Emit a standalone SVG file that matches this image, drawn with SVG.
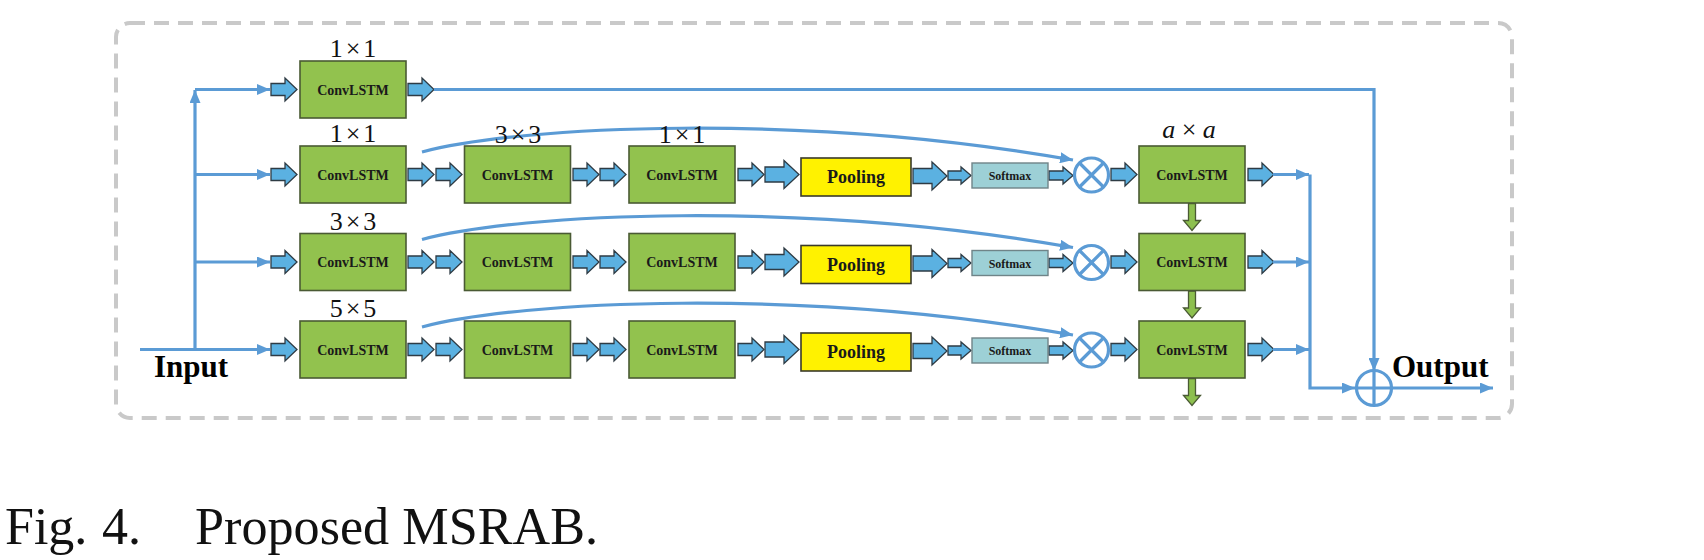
<svg xmlns="http://www.w3.org/2000/svg" xmlns:xlink="http://www.w3.org/1999/xlink" width="1704" height="560" viewBox="0 0 1704 560">
<style>
.frame{fill:none;stroke:#C9C9C9;stroke-width:4;stroke-dasharray:15 9}
.conv{fill:#92C24E;stroke:#4A5A34;stroke-width:1.6}
.pool{fill:#FFF200;stroke:#3A3A2A;stroke-width:1.6}
.soft{fill:#9DD0D6;stroke:#6F8488;stroke-width:1.4}
.ln{fill:none;stroke:#5B9BD5;stroke-width:3.2}
.op{fill:#FFFFFF;stroke:#5B9BD5;stroke-width:3.2}
.blk{fill:#5BB1E1;stroke:#2E3B44;stroke-width:1.3;stroke-linejoin:miter}
.gdn{fill:#8DC04F;stroke:#4A5A34;stroke-width:1.3}
.tb{font-family:"Liberation Serif","Times New Roman",serif;font-weight:bold;fill:#1a1a1a;text-anchor:middle}
.lab{font-family:"Liberation Serif","Times New Roman",serif;font-size:26px;letter-spacing:3px;fill:#111;text-anchor:middle}
.big{font-family:"Liberation Serif","Times New Roman",serif;font-weight:bold;font-size:31px;fill:#000}
.cap{font-family:"Liberation Serif","Times New Roman",serif;font-size:52px;fill:#111}
</style>
<defs>
<marker id="ah" markerUnits="userSpaceOnUse" markerWidth="13" markerHeight="11" refX="13" refY="5.5" orient="auto" viewBox="0 0 13 11">
<path d="M0,0 L13,5.5 L0,11 z" fill="#5B9BD5"/>
</marker>
<path id="ba" class="blk" d="M0,-6 H14 V-11.5 L26,0 L14,11.5 V6 H0 Z"/>
<path id="bb" class="blk" d="M0,-7.5 H19 V-14 L34,0 L19,14 V7.5 H0 Z"/>
<path id="bs" class="blk" d="M0,-4.5 H13 V-8.5 L23,0 L13,8.5 V4.5 H0 Z"/>
<path id="bm" class="blk" d="M0,-4.5 H14 V-8.5 L24,0 L14,8.5 V4.5 H0 Z"/>
<path id="gd" class="gdn" d="M-3.5,0 V17 H-8.5 L0,27 L8.5,17 H3.5 V0 Z"/>
</defs>
<rect width="1704" height="560" fill="#FFFFFF"/>
<rect class="frame" x="116" y="23" width="1396" height="395" rx="14"/>

<g id="connectors">
<path class="ln" d="M140,349.5 H270" marker-end="url(#ah)"/>
<path class="ln" d="M195,349.5 V90" marker-end="url(#ah)"/>
<path class="ln" d="M195,89.5 H270" marker-end="url(#ah)"/>
<path class="ln" d="M195,174.5 H270" marker-end="url(#ah)"/>
<path class="ln" d="M195,262 H270" marker-end="url(#ah)"/>
<use href="#ba" x="271" y="89.5"/>
<use href="#ba" x="408" y="89.5"/>
<path class="ln" d="M434,89.5 H1374 V371" marker-end="url(#ah)"/>
<use href="#ba" x="271" y="174.5"/>
<use href="#ba" x="408" y="174.5"/>
<use href="#ba" x="436" y="174.5"/>
<use href="#ba" x="573" y="174.5"/>
<use href="#ba" x="600" y="174.5"/>
<use href="#ba" x="738" y="174.5"/>
<use href="#bb" x="765" y="174.5"/>
<use href="#bb" x="913" y="176"/>
<use href="#bs" x="948" y="175.5"/>
<use href="#bm" x="1049" y="175.5"/>
<use href="#ba" x="1111" y="174.5"/>
<use href="#ba" x="1248" y="174.5"/>
<path class="ln" d="M1273,174.5 H1309" marker-end="url(#ah)"/>
<path class="ln" d="M422,152 C520,126 800,112 1073,160" marker-end="url(#ah)"/>
<use href="#ba" x="271" y="262"/>
<use href="#ba" x="408" y="262"/>
<use href="#ba" x="436" y="262"/>
<use href="#ba" x="573" y="262"/>
<use href="#ba" x="600" y="262"/>
<use href="#ba" x="738" y="262"/>
<use href="#bb" x="765" y="262"/>
<use href="#bb" x="913" y="263.5"/>
<use href="#bs" x="948" y="263"/>
<use href="#bm" x="1049" y="263"/>
<use href="#ba" x="1111" y="262"/>
<use href="#ba" x="1248" y="262"/>
<path class="ln" d="M1273,262 H1309" marker-end="url(#ah)"/>
<path class="ln" d="M422,239.5 C520,213.5 800,199.5 1073,247.5" marker-end="url(#ah)"/>
<use href="#ba" x="271" y="349.5"/>
<use href="#ba" x="408" y="349.5"/>
<use href="#ba" x="436" y="349.5"/>
<use href="#ba" x="573" y="349.5"/>
<use href="#ba" x="600" y="349.5"/>
<use href="#ba" x="738" y="349.5"/>
<use href="#bb" x="765" y="349.5"/>
<use href="#bb" x="913" y="351"/>
<use href="#bs" x="948" y="350.5"/>
<use href="#bm" x="1049" y="350.5"/>
<use href="#ba" x="1111" y="349.5"/>
<use href="#ba" x="1248" y="349.5"/>
<path class="ln" d="M1273,349.5 H1309" marker-end="url(#ah)"/>
<path class="ln" d="M422,327 C520,301 800,287 1073,335" marker-end="url(#ah)"/>
<path class="ln" d="M1310,174.5 V388 H1355" marker-end="url(#ah)"/>
<path class="ln" d="M1391.5,388 H1493" marker-end="url(#ah)"/>
<use href="#gd" x="1192" y="203.5"/>
<use href="#gd" x="1192" y="291"/>
<use href="#gd" x="1192" y="378.5"/>
</g>

<g id="conv0"><rect class="conv" x="300" y="61" width="106" height="57"/><text class="tb" x="353" y="94.5" font-size="14">ConvLSTM</text><text class="lab" x="354.5" y="57">1×1</text></g>
<g id="conv1a"><rect class="conv" x="300" y="146" width="106" height="57"/><text class="tb" x="353" y="179.5" font-size="14">ConvLSTM</text><text class="lab" x="354.5" y="142">1×1</text></g>
<g id="conv2a"><rect class="conv" x="300" y="233.5" width="106" height="57"/><text class="tb" x="353" y="267" font-size="14">ConvLSTM</text><text class="lab" x="354.5" y="229.5">3×3</text></g>
<g id="conv3a"><rect class="conv" x="300" y="321" width="106" height="57"/><text class="tb" x="353" y="354.5" font-size="14">ConvLSTM</text><text class="lab" x="354.5" y="317">5×5</text></g>
<g id="conv1b"><rect class="conv" x="464.5" y="146" width="106" height="57"/><text class="tb" x="517.5" y="179.5" font-size="14">ConvLSTM</text><text class="lab" x="519.5" y="143">3×3</text></g>
<g id="conv2b"><rect class="conv" x="464.5" y="233.5" width="106" height="57"/><text class="tb" x="517.5" y="267" font-size="14">ConvLSTM</text></g>
<g id="conv3b"><rect class="conv" x="464.5" y="321" width="106" height="57"/><text class="tb" x="517.5" y="354.5" font-size="14">ConvLSTM</text></g>
<g id="conv1c"><rect class="conv" x="629" y="146" width="106" height="57"/><text class="tb" x="682" y="179.5" font-size="14">ConvLSTM</text><text class="lab" x="683.5" y="143">1×1</text></g>
<g id="conv2c"><rect class="conv" x="629" y="233.5" width="106" height="57"/><text class="tb" x="682" y="267" font-size="14">ConvLSTM</text></g>
<g id="conv3c"><rect class="conv" x="629" y="321" width="106" height="57"/><text class="tb" x="682" y="354.5" font-size="14">ConvLSTM</text></g>
<g id="pool1"><rect class="pool" x="801" y="158" width="110" height="38"/><text class="tb" x="856" y="183" font-size="18">Pooling</text></g>
<g id="pool2"><rect class="pool" x="801" y="245.5" width="110" height="38"/><text class="tb" x="856" y="270.5" font-size="18">Pooling</text></g>
<g id="pool3"><rect class="pool" x="801" y="333" width="110" height="38"/><text class="tb" x="856" y="358" font-size="18">Pooling</text></g>
<g id="soft1"><rect class="soft" x="972" y="163" width="76" height="25"/><text class="tb" x="1010" y="180" font-size="12">Softmax</text></g>
<g id="soft2"><rect class="soft" x="972" y="250.5" width="76" height="25"/><text class="tb" x="1010" y="267.5" font-size="12">Softmax</text></g>
<g id="soft3"><rect class="soft" x="972" y="338" width="76" height="25"/><text class="tb" x="1010" y="355" font-size="12">Softmax</text></g>
<g id="mul1"><circle class="op" cx="1091.5" cy="175" r="17"/><path class="ln" d="M1079.5,163 L1103.5,187 M1103.5,163 L1079.5,187"/></g>
<g id="mul2"><circle class="op" cx="1091.5" cy="262.5" r="17"/><path class="ln" d="M1079.5,250.5 L1103.5,274.5 M1103.5,250.5 L1079.5,274.5"/></g>
<g id="mul3"><circle class="op" cx="1091.5" cy="350" r="17"/><path class="ln" d="M1079.5,338 L1103.5,362 M1103.5,338 L1079.5,362"/></g>
<g id="conv1d"><rect class="conv" x="1139" y="146" width="106" height="57"/><text class="tb" x="1192" y="179.5" font-size="14">ConvLSTM</text><text class="lab" x="1189" y="138" style="letter-spacing:0"><tspan font-style="italic">a</tspan> × <tspan font-style="italic">a</tspan></text></g>
<g id="conv2d"><rect class="conv" x="1139" y="233.5" width="106" height="57"/><text class="tb" x="1192" y="267" font-size="14">ConvLSTM</text></g>
<g id="conv3d"><rect class="conv" x="1139" y="321" width="106" height="57"/><text class="tb" x="1192" y="354.5" font-size="14">ConvLSTM</text></g>
<g id="sum"><circle class="op" cx="1374" cy="388" r="17.5"/><path class="ln" d="M1356.5,388 H1391.5 M1374,370.5 V405.5"/></g>
<g id="input"><text class="big" x="154" y="377">Input</text></g>
<g id="output"><text class="big" x="1392" y="377">Output</text></g>
<g id="caption"><text class="cap" y="544"><tspan x="5">Fig.</tspan><tspan x="102">4.</tspan><tspan x="195" textLength="403" lengthAdjust="spacingAndGlyphs">Proposed MSRAB.</tspan></text></g>
</svg>
